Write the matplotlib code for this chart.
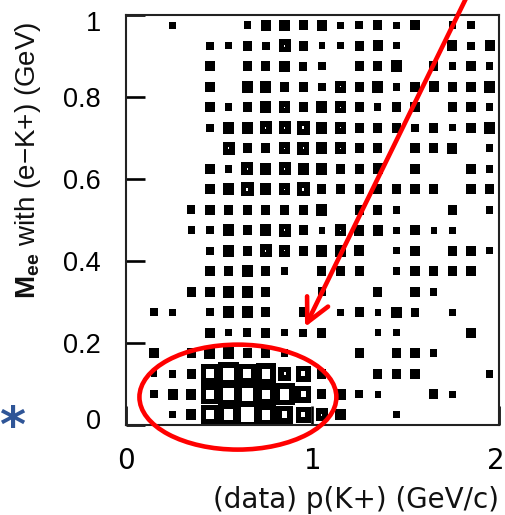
import numpy as np
import matplotlib
matplotlib.use("Agg")
import matplotlib.pyplot as plt
from matplotlib.patches import PathPatch, Ellipse
from matplotlib.path import Path
from matplotlib.transforms import ScaledTranslation

plt.rcParams["font.family"] = ["Liberation Sans", "DejaVu Sans"]
plt.rcParams["mathtext.fontset"] = "custom"
plt.rcParams["mathtext.rm"] = "Liberation Sans"
plt.rcParams["mathtext.bf"] = "Liberation Sans:bold"

# 2D histogram binning: p(K+) [GeV/c] x M_ee [GeV]
x_edges = np.linspace(0.0, 2.0, 21)
y_edges = np.linspace(0.0, 1.0, 21)

# bin contents, top row (M_ee = 0.95-1.0) first, p(K+) bins left to right
counts = [
    [0, 0, 1, 0, 0, 0, 2, 5, 5, 4, 5, 1, 2, 4, 1, 4, 0, 2, 2, 0],
    [0, 0, 0, 0, 2, 1, 4, 2, 7, 4, 1, 1, 4, 5, 1, 0, 0, 5, 2, 5],
    [0, 0, 0, 0, 4, 0, 4, 4, 5, 3, 2, 0, 4, 4, 6, 0, 4, 2, 4, 2],
    [0, 0, 0, 0, 4, 0, 6, 6, 4, 4, 2, 6, 4, 6, 2, 4, 5, 4, 4, 6],
    [0, 0, 0, 0, 4, 2, 4, 6, 6, 4, 6, 6, 4, 2, 4, 4, 0, 4, 4, 2],
    [0, 0, 0, 0, 2, 6, 6, 7, 7, 8, 6, 6, 4, 4, 4, 2, 4, 1, 4, 6],
    [0, 0, 0, 0, 0, 7, 4, 4, 6, 7, 6, 6, 4, 4, 0, 4, 4, 5, 0, 2],
    [0, 0, 0, 0, 4, 2, 7, 6, 7, 6, 6, 4, 4, 5, 0, 4, 0, 0, 4, 2],
    [0, 0, 0, 0, 4, 6, 8, 6, 6, 8, 4, 4, 4, 4, 4, 4, 4, 0, 4, 4],
    [0, 0, 0, 3, 4, 4, 4, 4, 4, 4, 6, 0, 4, 4, 2, 0, 0, 4, 0, 2],
    [0, 0, 0, 2, 2, 6, 4, 6, 7, 4, 1, 6, 5, 5, 1, 4, 1, 1, 0, 0],
    [0, 0, 0, 0, 2, 6, 4, 7, 6, 4, 6, 6, 5, 0, 1, 4, 0, 4, 4, 1],
    [0, 0, 0, 0, 4, 4, 6, 4, 2, 0, 4, 4, 4, 0, 2, 4, 4, 4, 4, 0],
    [0, 0, 0, 4, 4, 6, 6, 4, 0, 0, 3, 0, 0, 4, 0, 4, 2, 0, 0, 0],
    [0, 2, 1, 0, 2, 6, 6, 4, 0, 4, 0, 1, 4, 1, 5, 3, 0, 1, 0, 0],
    [0, 0, 0, 0, 4, 1, 3, 4, 1, 2, 4, 0, 0, 1, 1, 0, 0, 0, 4, 0],
    [0, 4, 0, 4, 6, 6, 4, 4, 2, 0, 0, 0, 4, 0, 4, 4, 2, 0, 0, 0],
    [0, 1, 2, 4, 14, 17, 14, 15, 8, 10, 4, 0, 0, 4, 4, 4, 0, 0, 0, 2],
    [0, 2, 5, 5, 14, 17, 18, 14, 16, 11, 4, 5, 2, 1, 0, 0, 4, 1, 0, 0],
    [0, 0, 1, 5, 14, 16, 20, 15, 12, 10, 7, 5, 0, 0, 1, 0, 0, 0, 0, 0],
]

x_ticks = [0, 1, 2]
x_ticklabels = ["0", "1", "2"]
y_ticks = [0, 0.2, 0.4, 0.6, 0.8, 1.0]
y_ticklabels = ["0", "0.2", "0.4", "0.6", "0.8", "1"]

x_title = "(data) p(K+) (GeV/c)"
y_title = r"$\mathbf{M}_{\mathbf{ee}}$ with (e−K+) (GeV)"

W, H = 506, 515
DPI = 100
fig = plt.figure(figsize=(W / DPI, H / DPI), dpi=DPI)
ax = fig.add_axes([126 / W, 90 / H, 373 / W, 410 / H])
ax.set_xlim(x_edges[0], x_edges[-1])
ax.set_ylim(y_edges[0], y_edges[-1])

# outline thickness of the boxes, in pixels, converted to data units
BOX_LINE_PX = 5.5
pos = ax.get_position()
px_per_x = pos.width * W / (x_edges[-1] - x_edges[0])
px_per_y = pos.height * H / (y_edges[-1] - y_edges[0])
tx = BOX_LINE_PX / px_per_x
ty = BOX_LINE_PX / px_per_y


def box_frame(cx, cy, w, h):
    """Square outline of given size drawn as a filled frame (outer - inner)."""
    ow, oh = w + tx, h + ty
    outer = [(cx - ow / 2, cy - oh / 2), (cx + ow / 2, cy - oh / 2),
             (cx + ow / 2, cy + oh / 2), (cx - ow / 2, cy + oh / 2),
             (cx - ow / 2, cy - oh / 2)]
    verts = list(outer)
    codes = [Path.MOVETO] + [Path.LINETO] * 3 + [Path.CLOSEPOLY]
    iw, ih = w - tx, h - ty
    if iw > 0 and ih > 0:
        inner = [(cx - iw / 2, cy - ih / 2), (cx - iw / 2, cy + ih / 2),
                 (cx + iw / 2, cy + ih / 2), (cx + iw / 2, cy - ih / 2),
                 (cx - iw / 2, cy - ih / 2)]
        verts += inner
        codes += [Path.MOVETO] + [Path.LINETO] * 3 + [Path.CLOSEPOLY]
    return Path(verts, codes)


# box drawing: side proportional to bin content
z = np.array(counts[::-1], dtype=float)  # row 0 = lowest M_ee bin
zmax = z.max()
xc = 0.5 * (x_edges[:-1] + x_edges[1:])
yc = 0.5 * (y_edges[:-1] + y_edges[1:])
dx = np.diff(x_edges)
dy = np.diff(y_edges)
for j in range(z.shape[0]):
    for i in range(z.shape[1]):
        c = z[j, i]
        if c <= 0:
            continue
        w = dx[i] * c / zmax
        h = dy[j] * c / zmax
        ax.add_patch(PathPatch(box_frame(xc[i], yc[j], w, h),
                               facecolor="black", edgecolor="none",
                               linewidth=0, zorder=2))

ax.set_xticks(x_ticks)
ax.set_xticklabels(x_ticklabels, fontsize=20, family="DejaVu Sans")
ax.set_yticks(y_ticks)
ax.set_yticklabels(y_ticklabels, fontsize=19.5)
ax.tick_params(axis="both", direction="in", length=13.7, width=1.9,
               color="black", zorder=5)
ax.tick_params(axis="y", pad=18)
ax.tick_params(axis="x", pad=16)
for s in ax.spines.values():
    s.set_linewidth(1.5)
    s.set_color("#222222")
    s.set_zorder(5)

# nudge end labels inward
ylabs = ax.get_yticklabels()
ylabs[0].set_transform(ylabs[0].get_transform() +
                       ScaledTranslation(0, 6 / DPI, fig.dpi_scale_trans))
ylabs[-1].set_transform(ylabs[-1].get_transform() +
                        ScaledTranslation(0, -6 / DPI, fig.dpi_scale_trans))
xlabs = ax.get_xticklabels()
xlabs[-1].set_transform(xlabs[-1].get_transform() +
                        ScaledTranslation(-3 / DPI, 0, fig.dpi_scale_trans))

fig.text(499 / W, 1 - 500 / H, x_title, ha="right", va="center",
         fontsize=20, family="DejaVu Sans", color="#111111")
fig.text(28 / W, 1 - 160 / H, y_title, ha="center", va="center",
         rotation=90, fontsize=20, color="#111111")
fig.text(12 / W, 1 - 428 / H, "*", ha="center", va="center",
         fontsize=36, fontweight="bold", color="#2f5597",
         family="DejaVu Sans")

# red highlight of the low-mass region
ax.add_patch(Ellipse((0.60, 0.068), width=1.056, height=0.256, fill=False,
                     edgecolor="#ff0000", linewidth=3.3, clip_on=False,
                     zorder=6))
ax.annotate("", xy=(0.96, 0.239), xytext=(1.845, 1.061),
            arrowprops=dict(arrowstyle="->,head_length=0.4,head_width=0.2",
                            color="#ff0000", lw=3.3, mutation_scale=42,
                            shrinkA=0, shrinkB=0),
            annotation_clip=False, zorder=7)

fig.savefig("out.png", dpi=DPI)
